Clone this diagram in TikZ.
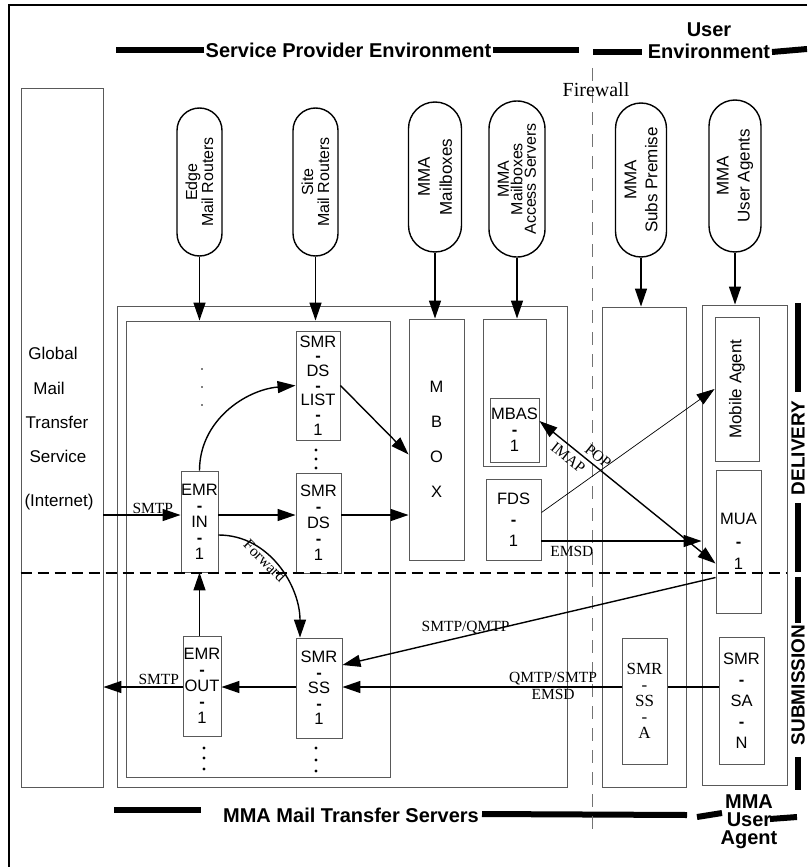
\documentclass[tikz,border=0pt]{standalone}
\usepackage{fontspec}
\setmainfont{Liberation Serif}
\setsansfont{Liberation Sans}
\usetikzlibrary{arrows.meta,shapes.misc}
\newcommand{\hyb}{\textbf{-}}

\begin{document}
\begin{tikzpicture}[x=1pt,y=1pt,
  unit/.style={draw=black!65, line width=0.9pt, fill=white, inner sep=0pt,
    align=center, font=\sffamily\fontsize{16.5}{16}\selectfont},
  frame/.style={draw=black!65, line width=0.9pt, inner sep=0pt},
  pool/.style={rounded rectangle, draw, line width=1.4pt, rotate=90,
    inner sep=0pt, align=center, font=\sffamily\fontsize{17}{21}\selectfont},
  arr/.style={-{Triangle[length=18pt,width=12pt]}, line width=1.4pt},
  biarr/.style={{Triangle[length=18pt,width=12pt]}-{Triangle[length=18pt,width=12pt]},
    line width=1.4pt},
  bar/.style={line width=6pt},
  head/.style={font=\sffamily\bfseries\fontsize{20}{18}\selectfont,
    inner sep=1pt, align=center},
  tag/.style={font=\rmfamily\fontsize{15.5}{16}\selectfont, inner sep=1.5pt},
  gms/.style={font=\sffamily\fontsize{17}{17}\selectfont, inner sep=0pt},
  divider/.style={dash pattern=on 11pt off 6pt, line width=1.3pt},
  fw/.style={dash pattern=on 13pt off 9pt, line width=1pt, black!55},
]
\useasboundingbox (0,0) rectangle (807,-867);
\draw[line width=1.4pt] (807,-5) -- (9,-5) -- (9,-867);

% Headings
\node[head] (spe) at (348.5,-50) {Service Provider Environment};
\draw[bar] (spe.west) -- ++(-88,0);
\draw[bar] (spe.east) -- ++(86,0);
\node[head, font=\sffamily\bfseries\fontsize{20}{22}\selectfont] (ue) at (709,-41) {User\\Environment};
\draw[bar] (593,-52) -- (642,-52);
\draw[bar] (772,-52) -- (807,-49);
\node[head] (mtsl) at (351,-815) {MMA Mail Transfer Servers};
\draw[bar] (114,-810) -- (201,-810);
\draw[bar] (482,-814) -- (687,-815);
\node[head] (mual) at (749,-822) {MMA\\User\\Agent};
\draw[bar] (697,-817) -- (722,-813);
\draw[bar] (770,-819) -- (797,-817);
\node[head, rotate=90, font=\sffamily\bfseries\fontsize{19}{18}\selectfont] (dlv) at (798,-448) {DELIVERY};
\draw[bar] (798,-303) -- (798,-392);
\draw[bar] (798,-503) -- (798,-572);
\node[head, rotate=90, font=\sffamily\bfseries\fontsize{19}{18}\selectfont] (sub) at (798,-685) {SUBMISSION};
\draw[bar] (798,-577) -- (798,-623);
\draw[bar] (798,-757) -- (798,-790);

% Firewall
\draw[fw] (592,-68) -- (592,-830);
\node[font=\rmfamily\fontsize{20}{20}\selectfont, inner sep=0pt] (fwl) at (596,-90) {Firewall};

% Pools
\node[pool, minimum width=148pt, minimum height=45pt,
  font=\sffamily\fontsize{16}{16}\selectfont] (edge) at (199.5,-182) {Edge\\Mail Routers};
\node[pool, minimum width=148pt, minimum height=45pt,
  font=\sffamily\fontsize{16}{16}\selectfont] (site) at (315.5,-182) {Site\\Mail Routers};
\node[pool, minimum width=150pt, minimum height=53pt,
  font=\sffamily\fontsize{17}{22}\selectfont] (mbx) at (435,-177) {MMA\\Mailboxes};
\node[pool, minimum width=156pt, minimum height=56pt,
  font=\sffamily\fontsize{16}{13.5}\selectfont] (mas) at (517,-179) {MMA\\Mailboxes\\Access Servers};
\node[pool, minimum width=154pt, minimum height=51pt] (subs) at (641,-180) {MMA\\Subs Premise};
\node[pool, minimum width=152pt, minimum height=52pt] (uag) at (735,-176) {MMA\\User Agents};

% Frames
\node[frame, minimum width=82pt, minimum height=699pt] (gmts) at (62,-437.5) {};
\node[frame, minimum width=450pt, minimum height=481pt] (mts) at (342,-546.5) {};
\node[frame, minimum width=264pt, minimum height=456pt] (mtsin) at (258,-549) {};
\node[frame, minimum width=63pt, minimum height=147pt] (mbasout) at (514.5,-392.5) {};
\node[frame, minimum width=84pt, minimum height=480pt] (subsbox) at (644,-547) {};
\node[frame, minimum width=85pt, minimum height=480pt] (uabox) at (744.5,-545) {};

\node[gms] (gl1) at (53,-353) {Global};
\node[gms] (gl2) at (49,-388) {Mail};
\node[gms] (gl3) at (57,-422) {Transfer};
\node[gms] (gl4) at (58,-456) {Service};
\node[gms] (gl5) at (59,-502) {(Internet)};

% Units
\node[unit, minimum width=44pt, minimum height=109pt,
  font=\sffamily\fontsize{16.5}{14.7}\selectfont] (dslist) at (318,-385.5) {SMR\\\hyb\\DS\\\hyb\\LIST\\\hyb\\1};
\node[unit, minimum width=45pt, minimum height=100pt] (ds) at (318.5,-523) {SMR\\\hyb\\DS\\\hyb\\1};
\node[unit, minimum width=37pt, minimum height=101pt] (emrin) at (199.5,-521.5) {EMR\\\hyb\\IN\\\hyb\\1};
\node[unit, minimum width=38pt, minimum height=100pt] (emrout) at (202,-686) {EMR\\\hyb\\OUT\\\hyb\\1};
\node[unit, minimum width=46pt, minimum height=100pt,
  font=\sffamily\fontsize{16.5}{15.5}\selectfont] (ss) at (319,-688) {SMR\\\hyb\\SS\\\hyb\\1};
\node[unit, minimum width=55pt, minimum height=241pt,
  font=\sffamily\fontsize{16.5}{35}\selectfont] (mbox) at (436.5,-439.5) {M\\B\\O\\X};
\node[unit, minimum width=49pt, minimum height=64pt] (mbas) at (514.5,-430) {MBAS\\\hyb\\1};
\node[unit, minimum width=55pt, minimum height=81pt,
  font=\sffamily\fontsize{16.5}{21}\selectfont] (fds) at (513.5,-519.5) {FDS\\\hyb\\1};
\node[unit, rotate=90, minimum width=144pt, minimum height=44pt,
  font=\sffamily\fontsize{17}{17}\selectfont] (mobile) at (737,-389) {Mobile Agent};
\node[unit, minimum width=45pt, minimum height=143pt,
  font=\sffamily\fontsize{16.5}{22.5}\selectfont] (mua) at (738.5,-541.5) {MUA\\\hyb\\1};
\node[unit, minimum width=45pt, minimum height=127pt,
  font=\sffamily\fontsize{16.5}{21}\selectfont] (sman) at (741.5,-700.5) {SMR\\\hyb\\SA\\\hyb\\N};

% Dots
\foreach \y in {369,387,405} \fill (202,-\y) circle (0.8pt);
\foreach \y in {450,459,468} \fill (316,-\y) circle (1.6pt);
\foreach \y in {748,758,769} \fill (204,-\y) circle (1.6pt);
\foreach \y in {748,760,771} \fill (316,-\y) circle (1.6pt);

% Rows
\coordinate (inrow) at (0,-515);
\coordinate (outrow) at (0,-687);
\coordinate (emsdrow) at (0,-541);
\coordinate (divrow) at (0,-573);

% Pool arrows
\draw[arr] (edge.west) -- (edge.west |- mtsin.north);
\draw[arr] (site.west) -- (site.west |- mtsin.north);
\draw[arr] (mbx.west) -- (mbx.west |- mbox.north);
\draw[arr] (mas.west) -- (mas.west |- mbasout.north);
\draw[arr] (subs.west) -- (subs.west |- subsbox.north);
\draw[arr] (uag.west) -- (uag.west |- uabox.north);

% Delivery
\draw[arr] (gmts.east |- inrow) -- node[tag, above, pos=0.64, inner sep=0.5pt] {SMTP} (emrin.west |- inrow);
\draw[arr] (emrin.east |- inrow) -- (ds.west |- inrow);
\draw[arr] (ds.east |- inrow) -- (mbox.west |- inrow);
\draw[arr] (emrin.north) to[out=90,in=185] (dslist.west);
\draw[arr] (dslist.east) -- ([yshift=-15pt]mbox.west);
\draw[arr] ([yshift=-13.5pt]emrin.east) to[out=0,in=90]
  node[tag, sloped, below, pos=0.4, inner sep=0pt] {Forward} ([xshift=-19pt]ss.north);
\draw[arr] (fds.east |- emsdrow) -- node[tag, below=3pt, pos=0.19] {EMSD} (uabox.west |- emsdrow);
\draw[arr, line width=0.7pt] ([yshift=7pt]fds.east) -- (mobile.north);
\draw[biarr] ([yshift=9pt]mbas.east) --
  node[tag, sloped, above=2pt, pos=0.3] {POP}
  node[tag, sloped, below=3pt, pos=0.2] {IMAP} ([yshift=-22pt]mua.west);

% Submission
\draw[arr] (emrout.north -| emrin.south) -- (emrin.south);
\draw[arr] (ss.west |- outrow) -- (emrout.east |- outrow);
\draw[arr] (emrout.west |- outrow) -- node[tag, above, pos=0.3] {SMTP} (gmts.east |- outrow);
\draw[arr] (sman.west |- outrow) --
  node[tag, above, pos=0.44] {QMTP/SMTP}
  node[tag, below, pos=0.44] {EMSD} (ss.east |- outrow);
\node[unit, minimum width=45pt, minimum height=126pt,
  font=\rmfamily\fontsize{17}{16}\selectfont] (smssa) at (644.5,-701) {SMR\\-\\SS\\-\\A};
\draw[arr] ([yshift=-36pt]mua.west) -- node[tag, above, pos=0.67] {SMTP/QMTP} ([yshift=23pt]ss.east);

\draw[divider] (gmts.west |- divrow) -- (uabox.east |- divrow);
\end{tikzpicture}
\end{document}
